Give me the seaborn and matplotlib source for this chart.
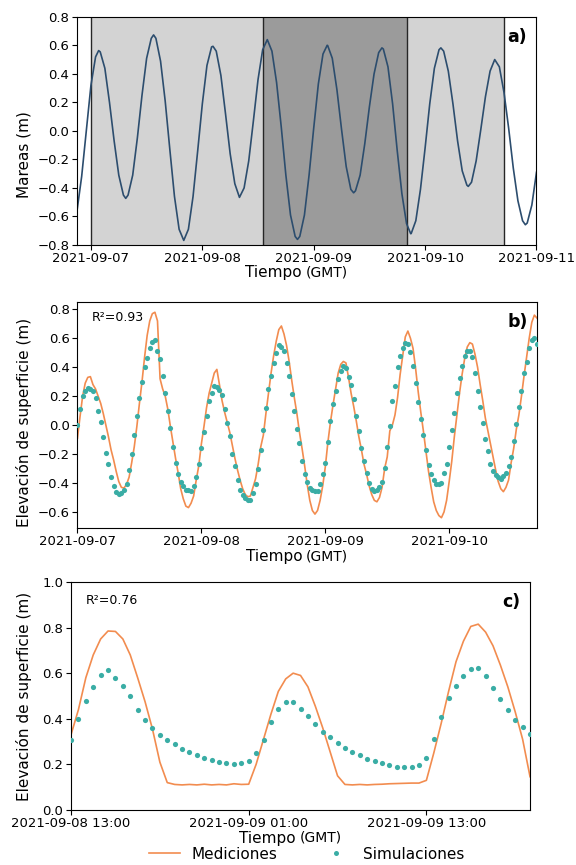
import pandas as pd
import seaborn as sns
import matplotlib.pyplot as plt
import matplotlib.dates as mdates
from matplotlib.lines import Line2D

plt.rcParams['font.size'] = 9.5

# --- panel a: predicted tide (hours from 2021-09-07 00:00) ---
TIDE_HOURS = [-3, -2, -1, 0, 1, 1.66, 2, 3, 4, 5, 6, 7, 7.5, 8, 9, 10, 11, 12, 13, 13.5,
              14, 15, 16, 17, 18, 19, 20, 21, 22, 23, 24, 25, 26, 26.3, 27, 28, 29, 30, 31, 32,
              33, 34, 35, 36, 37, 38, 39, 40, 41, 42, 43, 44, 44.5, 45, 46, 47, 48, 49, 50, 50.9,
              51, 52, 53, 54, 55, 56, 56.6, 57, 58, 59, 60, 61, 62, 62.7, 63, 64, 65, 66, 67, 68,
              68.9, 69, 70, 71, 72, 73, 74, 75, 75.4, 76, 77, 78, 79, 80, 81, 81.3, 82, 83, 84, 85,
              86, 87, 88, 89, 90, 91, 92, 93, 93.6, 94, 95, 96]
TIDE_M = [-0.56, -0.32, 0.00, 0.32, 0.52, 0.564, 0.555, 0.44, 0.20, -0.07, -0.31, -0.45, -0.473, -0.45, -0.31, -0.05, 0.25, 0.51, 0.65, 0.674,
          0.65, 0.49, 0.21, -0.13, -0.46, -0.69, -0.768, -0.69, -0.46, -0.14, 0.19, 0.46, 0.59, 0.594, 0.56, 0.39, 0.12, -0.16, -0.37, -0.466,
          -0.40, -0.21, 0.07, 0.36, 0.57, 0.641, 0.56, 0.34, 0.03, -0.31, -0.59, -0.74, -0.761, -0.74, -0.59, -0.31, 0.02, 0.33, 0.54, 0.601,
          0.60, 0.51, 0.29, 0.01, -0.25, -0.41, -0.434, -0.42, -0.31, -0.09, 0.17, 0.40, 0.55, 0.583, 0.575, 0.45, 0.19, -0.14, -0.44, -0.65,
          -0.721, -0.72, -0.63, -0.41, -0.12, 0.19, 0.44, 0.57, 0.583, 0.56, 0.42, 0.19, -0.07, -0.28, -0.38, -0.389, -0.36, -0.21, 0.01, 0.24,
          0.42, 0.501, 0.45, 0.27, 0.02, -0.26, -0.49, -0.63, -0.658, -0.646, -0.52, -0.29]

# --- panel b: half-hourly from 2021-09-07 00:00 ---
MEAS_B = [-0.09, 0.06, 0.20, 0.29, 0.33, 0.335, 0.28, 0.25, 0.20, 0.15,
          0.08, 0.00, -0.08, -0.17, -0.24, -0.32, -0.39, -0.43, -0.435, -0.41,
          -0.36, -0.26, -0.15, -0.01, 0.15, 0.30, 0.47, 0.62, 0.72, 0.77,
          0.78, 0.72, 0.32, 0.25, 0.20, 0.11, -0.01, -0.12, -0.23, -0.33,
          -0.44, -0.51, -0.56, -0.57, -0.54, -0.49, -0.38, -0.28, -0.13, -0.01,
          0.12, 0.22, 0.29, 0.36, 0.385, 0.28, 0.17, 0.09, 0.02, -0.05,
          -0.14, -0.23, -0.31, -0.38, -0.44, -0.48, -0.495, -0.49, -0.43, -0.37,
          -0.27, -0.15, -0.07, 0.08, 0.22, 0.36, 0.48, 0.58, 0.66, 0.685,
          0.63, 0.55, 0.44, 0.31, 0.19, 0.08, -0.05, -0.16, -0.28, -0.41,
          -0.52, -0.59, -0.615, -0.59, -0.52, -0.42, -0.29, -0.12, 0.02, 0.14,
          0.25, 0.36, 0.42, 0.44, 0.43, 0.33, 0.22, 0.13, 0.03, -0.08,
          -0.17, -0.27, -0.34, -0.42, -0.48, -0.52, -0.53, -0.50, -0.43, -0.30,
          -0.22, -0.04, 0.00, 0.07, 0.19, 0.35, 0.48, 0.61, 0.65, 0.60,
          0.53, 0.39, 0.23, 0.09, -0.04, -0.18, -0.32, -0.43, -0.53, -0.59,
          -0.625, -0.64, -0.60, -0.52, -0.39, -0.25, -0.08, 0.07, 0.22, 0.35,
          0.46, 0.54, 0.57, 0.56, 0.49, 0.40, 0.28, 0.17, 0.05, -0.04,
          -0.13, -0.22, -0.31, -0.39, -0.44, -0.46, -0.43, -0.38, -0.26, -0.16,
          -0.03, 0.07, 0.20, 0.34, 0.47, 0.60, 0.71, 0.76, 0.74]
SIM_B = [0.00, 0.11, 0.20, 0.235, 0.255, 0.25, 0.235, 0.19, 0.10, 0.02,
         -0.08, -0.19, -0.27, -0.36, -0.42, -0.46, -0.475, -0.47, -0.445, -0.41,
         -0.31, -0.20, -0.065, 0.06, 0.19, 0.30, 0.40, 0.465, 0.53, 0.575,
         0.585, 0.515, 0.46, 0.34, 0.22, 0.10, -0.02, -0.15, -0.26, -0.34,
         -0.39, -0.42, -0.445, -0.45, -0.455, -0.42, -0.36, -0.27, -0.16, -0.05,
         0.06, 0.165, 0.22, 0.27, 0.26, 0.24, 0.205, 0.11, 0.015, -0.075,
         -0.20, -0.285, -0.38, -0.445, -0.485, -0.505, -0.515, -0.52, -0.47, -0.41,
         -0.30, -0.17, -0.035, 0.12, 0.25, 0.34, 0.43, 0.495, 0.555, 0.54,
         0.515, 0.43, 0.34, 0.215, 0.095, -0.03, -0.125, -0.25, -0.335, -0.395,
         -0.435, -0.45, -0.457, -0.455, -0.41, -0.34, -0.26, -0.12, 0.03, 0.145,
         0.235, 0.32, 0.375, 0.41, 0.395, 0.335, 0.275, 0.18, 0.06, -0.04,
         -0.155, -0.25, -0.33, -0.40, -0.44, -0.455, -0.45, -0.43, -0.39, -0.295,
         -0.15, -0.005, 0.165, 0.27, 0.405, 0.475, 0.535, 0.565, 0.56, 0.505,
         0.41, 0.29, 0.16, 0.04, -0.065, -0.17, -0.275, -0.335, -0.38, -0.405,
         -0.41, -0.40, -0.33, -0.27, -0.15, -0.035, 0.085, 0.22, 0.325, 0.41,
         0.475, 0.515, 0.51, 0.47, 0.36, 0.235, 0.125, 0.015, -0.095, -0.18,
         -0.27, -0.32, -0.345, -0.36, -0.37, -0.355, -0.33, -0.28, -0.22, -0.11,
         0.005, 0.125, 0.235, 0.36, 0.435, 0.53, 0.585, 0.60, 0.56]

# --- panel c: half-hourly from 2021-09-08 13:00 ---
MEAS_C = [0.33, 0.44, 0.58, 0.68, 0.75, 0.785, 0.783, 0.75, 0.68, 0.58,
          0.475, 0.355, 0.21, 0.12, 0.112, 0.11, 0.112, 0.11, 0.113, 0.11,
          0.112, 0.11, 0.115, 0.112, 0.113, 0.20, 0.31, 0.42, 0.52, 0.575,
          0.60, 0.59, 0.54, 0.455, 0.36, 0.255, 0.15, 0.112, 0.11, 0.112,
          0.11, 0.112, 0.113, 0.115, 0.116, 0.117, 0.118, 0.118, 0.13, 0.25,
          0.38, 0.52, 0.65, 0.74, 0.805, 0.815, 0.78, 0.72, 0.635, 0.54,
          0.43, 0.31, 0.146]
SIM_C = [0.305, 0.40, 0.476, 0.539, 0.593, 0.615, 0.578, 0.543, 0.498, 0.439,
         0.395, 0.359, 0.329, 0.307, 0.288, 0.269, 0.253, 0.24, 0.23, 0.22,
         0.211, 0.205, 0.202, 0.204, 0.215, 0.249, 0.305, 0.385, 0.444, 0.473,
         0.474, 0.442, 0.413, 0.378, 0.343, 0.318, 0.294, 0.274, 0.253, 0.239,
         0.225, 0.215, 0.205, 0.198, 0.19, 0.187, 0.187, 0.196, 0.23, 0.312,
         0.408, 0.49, 0.545, 0.589, 0.618, 0.622, 0.586, 0.534, 0.486, 0.438,
         0.395, 0.362, 0.334]

# shaded windows in panel a
SPANS = [('2021-09-07 00:00', '2021-09-08 13:00', '#d3d3d3'),
         ('2021-09-08 13:00', '2021-09-09 20:00', '#9b9b9b'),
         ('2021-09-09 20:00', '2021-09-10 17:00', '#d3d3d3')]

ORANGE = '#f28c4f'
TEAL = '#3aada5'
TIDE = '#2c4d6e'


def time_label(ax, y):
    ax.set_xlabel('Tiempo', fontsize=11)
    ax.xaxis.set_label_coords(0.428, y)
    ax.annotate('(GMT)', xy=(1, 0), xycoords=ax.xaxis.label, xytext=(2.5, 0.5),
                textcoords='offset points', ha='left', va='bottom', fontsize=10)


fig = plt.figure(figsize=(5.76, 8.65), dpi=100)
ax_a = fig.add_axes([0.1337, 0.7168, 0.7977, 0.2636])
ax_b = fig.add_axes([0.1345, 0.3896, 0.7977, 0.2613])
ax_c = fig.add_axes([0.1233, 0.0636, 0.7969, 0.2636])

# a) tide
df_a = pd.DataFrame({'time': pd.Timestamp('2021-09-07') + pd.to_timedelta(TIDE_HOURS, unit='h'),
                     'tide': TIDE_M})
for start, end, col in SPANS:
    ax_a.axvspan(pd.Timestamp(start), pd.Timestamp(end), color=col, lw=0)
for edge in ['2021-09-07 00:00', '2021-09-08 13:00', '2021-09-09 20:00', '2021-09-10 17:00']:
    ax_a.axvline(pd.Timestamp(edge), color='0.15', lw=1)
sns.lineplot(data=df_a, x='time', y='tide', ax=ax_a, color=TIDE, lw=1.2)
ax_a.set_xlim(pd.Timestamp('2021-09-06 21:00'), pd.Timestamp('2021-09-11 00:00'))
ax_a.set_ylim(-0.8, 0.8)
ax_a.set_yticks([-0.8, -0.6, -0.4, -0.2, 0.0, 0.2, 0.4, 0.6, 0.8])
ax_a.set_ylabel('Mareas (m)', fontsize=11)
ax_a.yaxis.set_label_coords(-0.099, 0.395)
ax_a.xaxis.set_major_locator(mdates.DayLocator())
ax_a.xaxis.set_major_formatter(mdates.DateFormatter('%Y-%m-%d'))
time_label(ax_a, -0.09)

# b) measurements vs simulations
df_b = pd.DataFrame({'time': pd.date_range('2021-09-07 00:00', periods=len(MEAS_B), freq='30min'),
                     'meas': MEAS_B, 'sim': SIM_B})
sns.lineplot(data=df_b, x='time', y='meas', ax=ax_b, color=ORANGE, lw=1.2)
sns.scatterplot(data=df_b, x='time', y='sim', ax=ax_b, color=TEAL, s=14, linewidth=0, zorder=3)
ax_b.set_xlim(df_b['time'].iloc[0], df_b['time'].iloc[-1])
ax_b.set_ylim(-0.711, 0.851)
ax_b.set_ylabel('Elevación de superficie (m)', fontsize=11)
ax_b.yaxis.set_label_coords(-0.099, 0.465)
ax_b.xaxis.set_major_locator(mdates.DayLocator())
ax_b.xaxis.set_major_formatter(mdates.DateFormatter('%Y-%m-%d'))
ax_b.text(0.032, 0.93, 'R²=0.93', transform=ax_b.transAxes, fontsize=9, va='center')
time_label(ax_b, -0.095)

# c) zoom on the dark window
df_c = pd.DataFrame({'time': pd.date_range('2021-09-08 13:00', periods=len(MEAS_C), freq='30min'),
                     'meas': MEAS_C, 'sim': SIM_C})
sns.lineplot(data=df_c, x='time', y='meas', ax=ax_c, color=ORANGE, lw=1.2)
sns.scatterplot(data=df_c, x='time', y='sim', ax=ax_c, color=TEAL, s=14, linewidth=0, zorder=3)
ax_c.set_xlim(df_c['time'].iloc[0], df_c['time'].iloc[-1])
ax_c.set_ylim(0, 1.0)
ax_c.set_ylabel('Elevación de superficie (m)', fontsize=11)
ax_c.yaxis.set_label_coords(-0.085, 0.5)
ax_c.xaxis.set_major_locator(mdates.HourLocator(byhour=[1, 13]))
ax_c.xaxis.set_major_formatter(mdates.DateFormatter('%Y-%m-%d %H:%M'))
ax_c.text(0.033, 0.917, 'R²=0.76', transform=ax_c.transAxes, fontsize=9, va='center')
time_label(ax_c, -0.09)

for ax, tag in zip([ax_a, ax_b, ax_c], ['a)', 'b)', 'c)']):
    ax.text(0.98, 0.95, tag, transform=ax.transAxes, ha='right', va='top',
            fontsize=12.5, fontweight='bold')
    ax.tick_params(axis='x', pad=1.5)
    ax.tick_params(axis='y', pad=2)

handles = [Line2D([], [], color=ORANGE, lw=1.2),
           Line2D([], [], ls='none', marker='o', ms=3.6, color=TEAL, mec='none')]
fig.legend(handles, ['Mediciones', 'Simulaciones'], loc='center', bbox_to_anchor=(0.533, 0.0125),
           ncol=2, frameon=False, fontsize=11, columnspacing=2.8)

plt.savefig('out.png', dpi=100)
